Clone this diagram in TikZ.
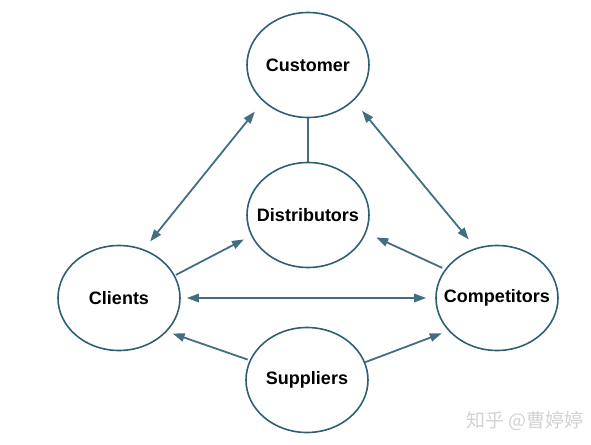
\documentclass[tikz,border=0pt]{standalone}
\usepackage{fontspec}
\setmainfont{Liberation Sans}
\newfontfamily\cjk{Noto Sans CJK SC}
\usetikzlibrary{arrows.meta, shapes.geometric}
\definecolor{rimteal}{HTML}{2F6072}
\definecolor{arrteal}{HTML}{436E80}
\definecolor{wmark}{HTML}{D2D2D2}
\newcommand{\plabel}[1]{\makebox[0pt]{#1}}

\begin{document}
\begin{tikzpicture}[x=0.5pt, y=-0.5pt,
  party/.style={ellipse, draw=rimteal, line width=0.8pt, fill=white,
    minimum width=61pt, minimum height=52.5pt, inner sep=0pt,
    font=\fontsize{9}{11}\selectfont\bfseries},
  >={Triangle[length=6pt, width=4.2pt]},
  arr/.style={draw=arrteal, line width=0.9pt, ->},
  dbl/.style={draw=arrteal, line width=0.9pt, <->},
]

% Canvas
\useasboundingbox (0,0) rectangle (591,445);

\node[party] (customer) at (308,65) {\plabel{Customer}};
\node[party] (distrib) at (308,215) {\plabel{Distributors}};
\node[party] (clients) at (119,298) {\plabel{Clients}};
\node[party] (compet) at (497,298) {\plabel{Competitors}};
\node[party] (suppl) at (307,380) {\plabel{Suppliers}};

\draw[draw=arrteal, line width=0.9pt] (customer.south) -- (distrib.north);

\draw[dbl, shorten <=5pt, shorten >=6.5pt] (clients.63) -- (customer.219);
\draw[dbl, shorten <=5.5pt, shorten >=6.5pt] (compet.113) -- (customer.322);
\draw[dbl, shorten <=3pt, shorten >=4.5pt] (clients.east) -- (compet.west);

\draw[arr, shorten <=0.5pt, shorten >=4pt] (clients.22) -- (distrib.200);
\draw[arr, shorten <=1.5pt, shorten >=5.5pt] (compet.151) -- (distrib.343);
\draw[arr, shorten <=1pt, shorten >=3pt] (suppl.161) -- (clients.325);
\draw[arr, shorten <=0pt, shorten >=3.5pt] (suppl.17) -- (compet.214);

% Watermark
\node[font=\cjk\fontsize{9.5}{11}\selectfont, text=wmark] (wm) at (525,421) {知乎 @曹婷婷};
\end{tikzpicture}
\end{document}
